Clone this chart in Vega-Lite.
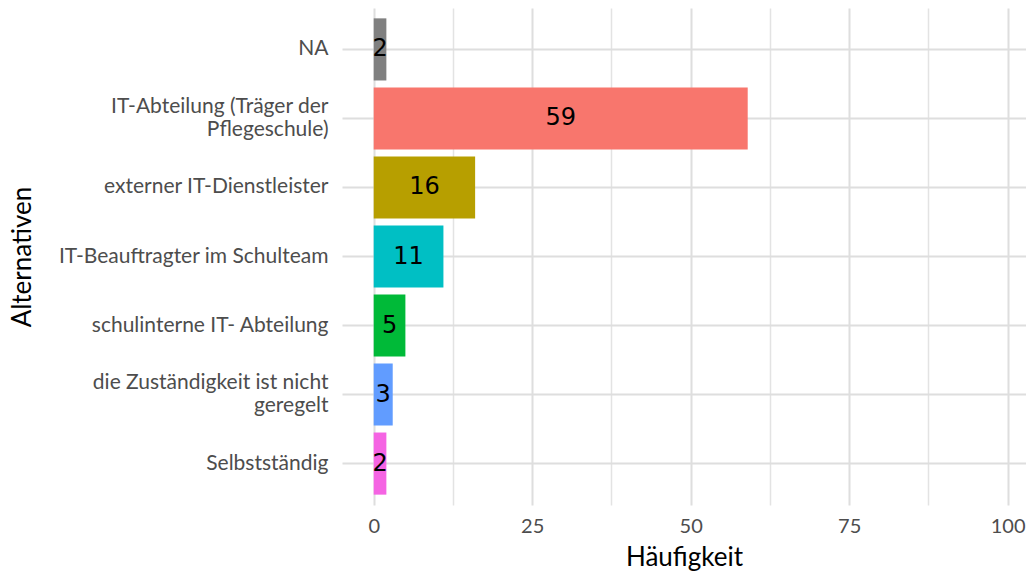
{
  "$schema": "https://vega.github.io/schema/vega-lite/v6.json",
  "autosize": "none",
  "width": 684,
  "height": 497,
  "padding": {"left": 342, "top": 8, "right": 0, "bottom": 69},
  "background": "white",
  "config": {"view": {"stroke": null}, "font": "Lato"},
  "data": {
    "values": [
      {"alt": "NA", "n": 2},
      {"alt": "IT-Abteilung (Träger der\nPflegeschule)", "n": 59},
      {"alt": "externer IT-Dienstleister", "n": 16},
      {"alt": "IT-Beauftragter im Schulteam", "n": 11},
      {"alt": "schulinterne IT- Abteilung", "n": 5},
      {"alt": "die Zuständigkeit ist nicht\ngeregelt", "n": 3},
      {"alt": "Selbstständig", "n": 2}
    ]
  },
  "encoding": {
    "y": {
      "field": "alt",
      "type": "nominal",
      "sort": null,
      "scale": {"paddingInner": 0.1, "paddingOuter": 0.15},
      "axis": {
        "title": "Alternativen",
        "titleFontSize": 26,
        "titleFontWeight": "normal",
        "titleColor": "black",
        "titleAngle": -90,
        "titleX": -320,
        "titleY": 248.5,
        "titleBaseline": "middle",
        "titleAlign": "center",
        "labelExpr": "split(datum.label, '\\n')",
        "labelFontSize": 21,
        "labelColor": "#4d4d4d",
        "labelLineHeight": 23,
        "labelLimit": 400,
        "labelPadding": 14,
        "labelOffset": {"condition": {"test": "indexof(datum.value, '\\n') >= 0", "value": -11.5}, "value": 0},
        "ticks": false,
        "domain": false,
        "grid": true,
        "bandPosition": 0.5,
        "gridColor": "#dedede",
        "gridWidth": 2
      }
    }
  },
  "layer": [
    {
      "mark": {"type": "bar"},
      "encoding": {
        "x": {
          "field": "n",
          "type": "quantitative",
          "scale": {"domain": [-5, 102.9], "nice": false, "zero": false},
          "axis": {
            "values": [0, 25, 50, 75, 100],
            "title": "Häufigkeit",
            "titleFontSize": 26,
            "titleFontWeight": "normal",
            "titleColor": "black",
            "titleY": 60,
            "titleBaseline": "alphabetic",
            "labelFontSize": 20,
            "labelColor": "#4d4d4d",
            "labelPadding": 11,
            "labelFlush": false,
            "ticks": false,
            "domain": false,
            "grid": true,
            "gridColor": "#dedede",
            "gridWidth": 2
          }
        },
        "x2": {"datum": 0},
        "color": {
          "field": "alt",
          "type": "nominal",
          "legend": null,
          "scale": {
            "domain": [
              "NA",
              "IT-Abteilung (Träger der\nPflegeschule)",
              "externer IT-Dienstleister",
              "IT-Beauftragter im Schulteam",
              "schulinterne IT- Abteilung",
              "die Zuständigkeit ist nicht\ngeregelt",
              "Selbstständig"
            ],
            "range": ["#808080", "#F8766D", "#B79F00", "#00BFC4", "#00BA38", "#619CFF", "#F564E3"]
          }
        }
      }
    },
    {
      "mark": {"type": "text", "font": "DejaVu Sans", "fontSize": 24, "color": "black", "baseline": "middle", "align": "center"},
      "encoding": {
        "x": {
          "field": "n",
          "type": "quantitative",
          "scale": {"domain": [-10, 205.8], "nice": false, "zero": false},
          "axis": {
            "values": [25, 75, 125, 175],
            "title": null,
            "labels": false,
            "ticks": false,
            "domain": false,
            "grid": true,
            "gridColor": "#e3e3e3",
            "gridWidth": 1.5
          }
        },
        "text": {"field": "n", "type": "quantitative"}
      }
    }
  ],
  "resolve": {"scale": {"x": "independent"}, "axis": {"x": "independent"}}
}
